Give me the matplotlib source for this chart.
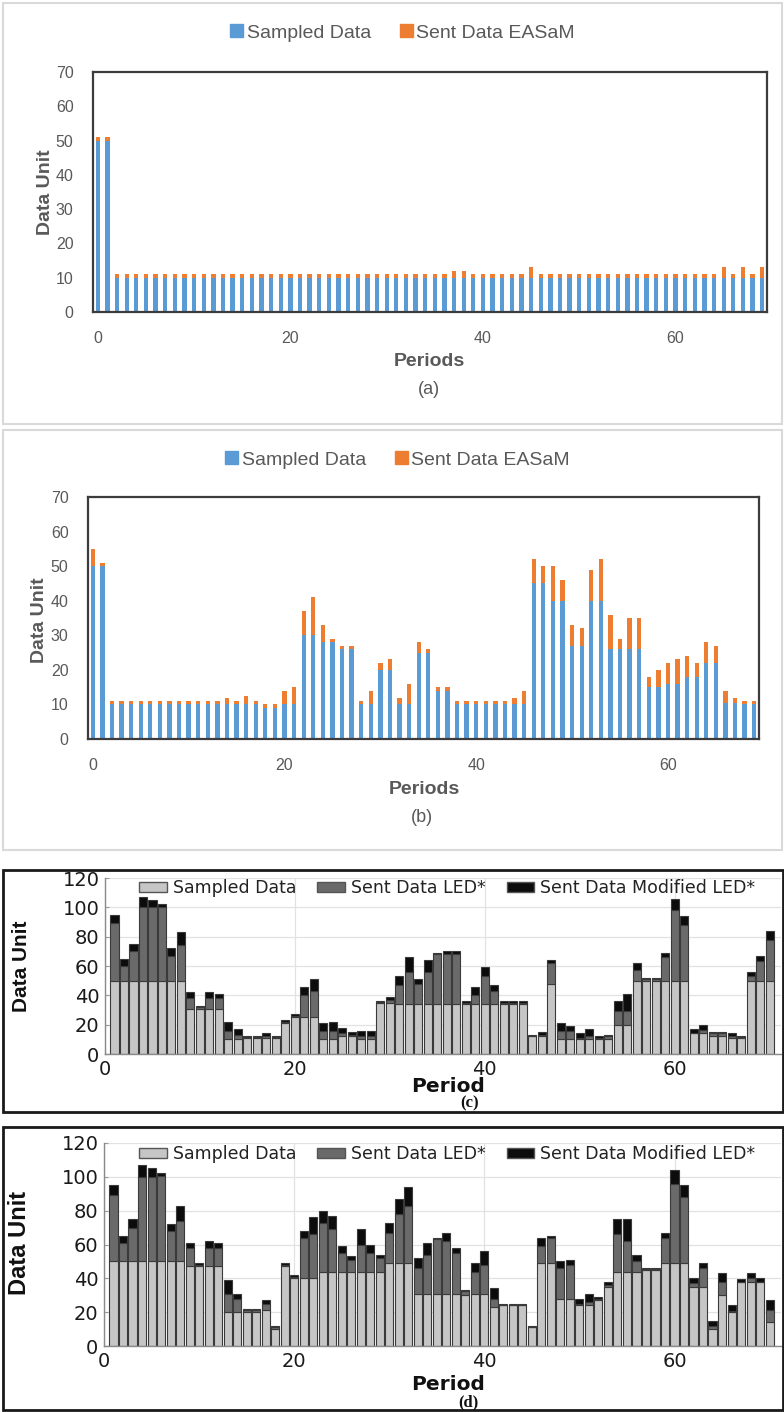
import numpy as np
import matplotlib
matplotlib.use("Agg")
import matplotlib.pyplot as plt
from matplotlib.patches import Rectangle, Patch
from matplotlib import font_manager as fm

# ---------------- data ----------------
periods_ab = list(range(70))

sampled_a = [
    50, 50, 10, 10, 10, 10, 10, 10, 10, 10,
    10, 10, 10, 10, 10, 10, 10, 10, 10, 10,
    10, 10, 10, 10, 10, 10, 10, 10, 10, 10,
    10, 10, 10, 10, 10, 10, 10, 10, 10, 10,
    10, 10, 10, 10, 10, 10, 10, 10, 10, 10,
    10, 10, 10, 10, 10, 10, 10, 10, 10, 10,
    10, 10, 10, 10, 10, 10, 10, 10, 10, 10,
]
total_a = [
    51, 51, 11, 11, 11, 11, 11, 11, 11, 11,
    11, 11, 11, 11, 11, 11, 11, 11, 11, 11,
    11, 11, 11, 11, 11, 11, 11, 11, 11, 11,
    11, 11, 11, 11, 11, 11, 11, 12, 12, 11,
    11, 11, 11, 11, 11, 13, 11, 11, 11, 11,
    11, 11, 11, 11, 11, 11, 11, 11, 11, 11,
    11, 11, 11, 11, 11, 13, 11, 13, 11, 13,
]

sampled_b = [
    50, 50, 10, 10, 10, 10, 10, 10, 10, 10,
    10, 10, 10, 10, 10, 10, 10, 10, 9, 9,
    10, 10, 30, 30, 28, 28, 26, 26, 10, 10,
    20, 20, 10, 10, 25, 25, 14, 14, 10, 10,
    10, 10, 10, 10, 10, 10, 45, 45, 40, 40,
    27, 27, 40, 40, 26, 26, 26, 26, 15, 15,
    16, 16, 18, 18, 22, 22, 10.5, 10.5, 10, 10,
]
total_b = [
    55, 51, 11, 11, 11, 11, 11, 11, 11, 11,
    11, 11, 11, 11, 12, 11, 12.5, 11, 10, 10,
    14, 15, 37, 41, 33, 29, 27, 27, 11, 14,
    22, 23, 12, 16, 28, 26, 15, 15, 11, 11,
    11, 11, 11, 11, 12, 14, 52, 50, 50, 46,
    33, 32, 49, 52, 36, 29, 35, 35, 18, 20,
    22, 23, 24, 22, 28, 27, 14, 12, 11, 11,
]

periods_cd = list(range(1, 71))

sampled_c = [
    50, 50, 50, 50, 50, 50, 50, 50, 31, 31,
    31, 31, 10, 10, 11, 11, 11, 11, 21, 25,
    25, 25, 10, 10, 12, 12, 10, 10, 35, 35,
    34, 34, 34, 34, 34, 34, 34, 34, 34, 34,
    34, 34, 34, 34, 12, 12, 48, 10, 10, 10,
    10, 10, 10, 20, 20, 50, 50, 50, 50, 50,
    50, 14, 14, 12, 12, 11, 11, 50, 50, 50,
]
led_c = [
    89, 60, 70, 100, 100, 100, 67, 74, 38, 32,
    38, 38, 16, 13, 11.5, 11.5, 12, 11.5, 22, 26,
    40, 43, 16, 16, 14, 13, 12, 12, 35.5, 37,
    47, 56, 48, 56, 68, 68, 68, 35, 40, 53,
    43, 35, 35, 35, 12.5, 13, 62, 16, 15.5, 11,
    12, 11, 12, 29, 29, 57, 51, 51, 66, 98,
    88, 14.5, 16.5, 14, 14, 12, 11.5, 53, 63.5, 78,
]
mod_c = [
    95, 65, 75, 107, 105, 102, 72, 83, 42, 33,
    42, 41, 22, 17, 12, 12, 14, 12, 23, 27,
    46, 51, 21, 22, 18, 15, 16, 16, 36, 39,
    53, 66, 51, 64, 69, 70, 70, 36, 46, 59,
    47, 36, 36, 36, 13, 15, 64, 21, 19, 14,
    17, 12, 13, 36, 41, 62, 52, 52, 69, 106,
    94, 17, 20, 15, 15, 14, 12, 56, 67, 84,
]

sampled_d = [
    50, 50, 50, 50, 50, 50, 50, 50, 47, 47,
    47, 47, 20, 20, 20, 20, 21, 10, 47, 40,
    40, 40, 44, 44, 44, 44, 44, 44, 44, 49,
    49, 49, 31, 31, 31, 31, 31, 30, 31, 31,
    23, 24, 24, 24, 11, 49, 49, 28, 28, 24,
    24, 27, 35, 44, 44, 44, 45, 45, 49, 49,
    49, 35, 35, 10, 30, 20, 38, 38, 38, 14,
]
led_d = [
    89, 61, 70, 100, 100, 100.5, 68, 74, 58, 48,
    58, 58, 31, 28, 21, 21, 25, 11.5, 48, 41,
    64, 66, 73, 69, 55, 51, 60, 55, 52, 67,
    78, 83, 46, 54, 63, 62, 55, 32.5, 44, 48,
    28, 24.5, 24.5, 24.5, 11, 59, 64, 46, 48, 25,
    26, 28, 36, 66, 62, 50, 45.5, 45.5, 64, 96,
    88, 37, 46, 12, 38, 20.5, 38, 40, 38, 21,
]
mod_d = [
    95, 65, 75, 107, 105, 102, 72, 83, 61, 49,
    62, 61, 39, 31, 22, 22, 27, 12, 49, 42,
    68, 76, 80, 77, 59, 53, 69, 60, 54, 73,
    87, 94, 52, 61, 64, 67, 58, 33, 49, 56,
    34, 25, 25, 25, 12, 64, 65, 50, 51, 28,
    31, 29, 38, 75, 75, 54, 46, 46, 67, 104,
    95, 40, 49, 15, 43, 24, 39.5, 43, 40, 27,
]

labels_ab = ["Sampled Data", "Sent Data EASaM"]
labels_cd = ["Sampled Data", "Sent Data LED*", "Sent Data Modified LED*"]

# ---------------- styling ----------------
BLUE = "#5B9BD5"
ORANGE = "#ED7D31"
LIGHT = "#c6c6c6"
DARK = "#6a6a6a"
BLACK = "#0c0c0c"
GRAYTXT = "#595959"

names = {f.name for f in fm.fontManager.ttflist}
SANS = "Liberation Sans" if "Liberation Sans" in names else "DejaVu Sans"
HAS_NARROW = "Liberation Sans Narrow" in names
NARROW = "Liberation Sans Narrow" if HAS_NARROW else SANS
SERIF = "Liberation Serif" if "Liberation Serif" in names else "DejaVu Serif"

W, H = 784, 1412
fig = plt.figure(figsize=(W / 100, H / 100), dpi=100)


def rect(l, t, r, b):
    return [l / W, 1 - b / H, (r - l) / W, (b - t) / H]


def px(x, y):
    return (x / W, 1 - y / H)


def frame(l, t, r, b, color, lw):
    fig.add_artist(Rectangle((l / W, 1 - b / H), (r - l) / W, (b - t) / H,
                             transform=fig.transFigure, fill=False,
                             edgecolor=color, lw=lw))


def axcoord(box, x, y):
    l, t, r, b = box
    return (x - l) / (r - l), 1 - (y - t) / (b - t)


# ---------------- panels (a) and (b) ----------------
def excel_panel(box, sampled, total, leg_xy, xlabel_xy, tag, tag_xy, ylabel_xy):
    ax = fig.add_axes(rect(*box))
    s = np.array(sampled, dtype=float)
    extra = np.array(total, dtype=float) - s
    ax.bar(periods_ab, s, width=0.45, color=BLUE, zorder=2)
    ax.bar(periods_ab, extra, bottom=s, width=0.45, color=ORANGE, zorder=2)
    ax.set_xlim(-0.5, 69.5)
    ax.set_ylim(0, 70)
    ax.set_xticks([0, 20, 40, 60])
    ax.set_yticks(range(0, 71, 10))
    ax.tick_params(length=0, labelsize=11.5, labelcolor=GRAYTXT, pad=14)
    for lab in ax.get_xticklabels() + ax.get_yticklabels():
        lab.set_fontfamily(SANS)
    for sp in ax.spines.values():
        sp.set_color("#3c3c3c")
        sp.set_linewidth(1.6)
    ax.set_xlabel("Periods", fontsize=14, fontweight="bold", color=GRAYTXT,
                  family=SANS, va="center")
    ax.xaxis.set_label_coords(*axcoord(box, *xlabel_xy))
    ax.set_ylabel("Data Unit", fontsize=14, fontweight="bold", color=GRAYTXT,
                  family=SANS, va="center")
    ax.yaxis.set_label_coords(*axcoord(box, *ylabel_xy))
    fig.text(*px(*tag_xy), tag, ha="center", va="center", fontsize=13,
             color=GRAYTXT, family=SANS)
    fig.legend(handles=[Patch(color=BLUE), Patch(color=ORANGE)],
               labels=labels_ab, loc="center left",
               bbox_to_anchor=px(*leg_xy), bbox_transform=fig.transFigure,
               ncol=2, frameon=False, prop={"family": SANS, "size": 14},
               handlelength=0.65, handleheight=0.65, handletextpad=0.2,
               columnspacing=1.5, borderpad=0, borderaxespad=0,
               labelcolor=GRAYTXT)
    return ax


frame(3, 3, 782, 424, "#d9d9d9", 1.5)
frame(3, 430, 782, 850, "#d9d9d9", 1.5)

box_a = (93, 72, 767, 312)
excel_panel(box_a, sampled_a, total_a, (230, 33), (429, 362), "(a)", (429, 389), (45, 192))
box_b = (88, 497, 759, 739)
excel_panel(box_b, sampled_b, total_b, (225, 460), (424, 789), "(b)", (422, 817), (40, 620))


# ---------------- panels (c) and (d) ----------------
def gnu_panel(box, sampled, led, mod, leg_xy, xlabel_xy, tag, tag_xy, ylabel_xy, ylab_size):
    ax = fig.add_axes(rect(*box))
    s = np.array(sampled, dtype=float)
    l = np.array(led, dtype=float)
    m = np.array(mod, dtype=float)
    kw = dict(width=0.85, edgecolor="#3a3a3a", linewidth=0.8, zorder=2)
    ax.bar(periods_cd, s, color=LIGHT, **kw)
    ax.bar(periods_cd, l - s, bottom=s, color=DARK, **kw)
    ax.bar(periods_cd, m - l, bottom=l, color=BLACK, **kw)
    ax.set_xlim(0, 71.2)
    ax.set_ylim(0, 120)
    ax.set_xticks([0, 20, 40, 60])
    ax.set_yticks(range(0, 121, 20))
    ax.grid(True, color="#e2e2e2", lw=0.9)
    ax.set_axisbelow(True)
    ax.tick_params(direction="in", length=3, color="#999999", labelsize=14,
                   labelcolor="#1a1a1a", pad=4)
    for sp in ("top", "right"):
        ax.spines[sp].set_visible(False)
    for sp in ("left", "bottom"):
        ax.spines[sp].set_color("#8a8a8a")
        ax.spines[sp].set_linewidth(1.0)
    ax.set_xlabel("Period", fontsize=14.5, fontweight="bold", color="#111111",
                  family="DejaVu Sans", va="center")
    ax.xaxis.set_label_coords(*axcoord(box, *xlabel_xy))
    ax.set_ylabel("Data Unit", fontsize=ylab_size, fontweight="bold", color="#111111",
                  family=NARROW, va="center")
    ax.yaxis.set_label_coords(*axcoord(box, *ylabel_xy))
    fig.text(*px(*tag_xy), tag, ha="center", va="center", fontsize=12,
             fontweight="bold", color="#111111", family=SERIF)
    ax.legend(handles=[Patch(facecolor=LIGHT, edgecolor="#555555"),
                       Patch(facecolor=DARK, edgecolor="#555555"),
                       Patch(facecolor=BLACK, edgecolor="#555555")],
              labels=labels_cd, loc="center left",
              bbox_to_anchor=px(*leg_xy), bbox_transform=fig.transFigure,
              ncol=3, frameon=False, fontsize=12.5,
              handlelength=1.6, handleheight=0.55, handletextpad=0.35,
              columnspacing=1.2, borderpad=0, borderaxespad=0,
              labelcolor="#222222")
    return ax


frame(3, 870, 783, 1112, "#1a1a1a", 2.0)
frame(3, 1127, 783, 1410, "#1a1a1a", 2.0)

ysz_c = 17.5 if HAS_NARROW else 15
ysz_d = 20 if HAS_NARROW else 17

box_c = (105, 878, 781, 1054)
gnu_panel(box_c, sampled_c, led_c, mod_c, (139, 888), (448, 1087), "(c)", (470, 1103), (22, 966), ysz_c)
box_d = (104, 1143, 781, 1346)
gnu_panel(box_d, sampled_d, led_d, mod_d, (139, 1154), (448, 1384), "(d)", (468, 1402), (20, 1243), ysz_d)

fig.savefig("out.png", dpi=100)
